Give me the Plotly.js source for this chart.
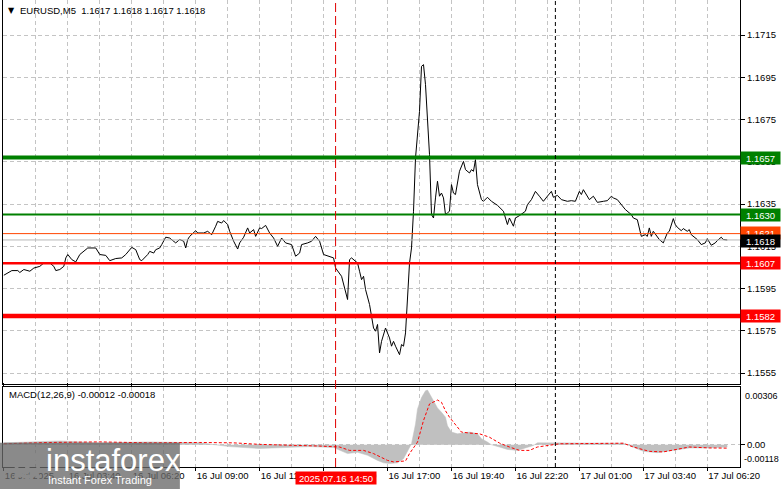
<!DOCTYPE html>
<html><head><meta charset="utf-8">
<script src="https://cdn.plot.ly/plotly-3.0.1.min.js"></script>
<style>html,body{margin:0;padding:0;background:#fff}#chart{width:781px;height:489px}</style>
</head><body><div id="chart"></div>
<script>
// ---- data ----
const symbolHeader = 'EURUSD,M5  1.1617 1.1618 1.1617 1.1618';
const macdHeader = 'MACD(12,26,9) -0.00012 -0.00018';

const times = [
'2025-07-16 01:00','2025-07-16 01:20','2025-07-16 01:35','2025-07-16 01:40','2025-07-16 01:50','2025-07-16 02:05','2025-07-16 02:15','2025-07-16 02:30','2025-07-16 02:40','2025-07-16 02:55',
'2025-07-16 03:05','2025-07-16 03:10','2025-07-16 03:20','2025-07-16 03:30','2025-07-16 03:35','2025-07-16 03:40','2025-07-16 03:50','2025-07-16 04:00','2025-07-16 04:10','2025-07-16 04:20',
'2025-07-16 04:30','2025-07-16 04:50','2025-07-16 05:00','2025-07-16 05:15','2025-07-16 05:25','2025-07-16 05:40','2025-07-16 05:55','2025-07-16 06:05','2025-07-16 06:20','2025-07-16 06:30',
'2025-07-16 06:40','2025-07-16 06:45','2025-07-16 07:00','2025-07-16 07:05','2025-07-16 07:15','2025-07-16 07:20','2025-07-16 07:30','2025-07-16 07:35','2025-07-16 07:45','2025-07-16 07:55',
'2025-07-16 08:10','2025-07-16 08:20','2025-07-16 08:30','2025-07-16 08:35','2025-07-16 08:40','2025-07-16 08:45','2025-07-16 09:00','2025-07-16 09:05','2025-07-16 09:20','2025-07-16 09:30',
'2025-07-16 09:40','2025-07-16 09:50','2025-07-16 09:55','2025-07-16 10:05','2025-07-16 10:10','2025-07-16 10:20','2025-07-16 10:25','2025-07-16 10:35','2025-07-16 10:45','2025-07-16 10:50',
'2025-07-16 11:00','2025-07-16 11:10','2025-07-16 11:15','2025-07-16 11:25','2025-07-16 11:30','2025-07-16 11:40','2025-07-16 11:45','2025-07-16 11:55','2025-07-16 12:05','2025-07-16 12:15',
'2025-07-16 12:25','2025-07-16 12:35','2025-07-16 12:45','2025-07-16 13:00','2025-07-16 13:10','2025-07-16 13:20','2025-07-16 13:25','2025-07-16 13:40','2025-07-16 13:50','2025-07-16 14:00',
'2025-07-16 14:10','2025-07-16 14:20','2025-07-16 14:35','2025-07-16 14:45','2025-07-16 14:50','2025-07-16 15:05','2025-07-16 15:20','2025-07-16 15:25','2025-07-16 15:30','2025-07-16 15:40',
'2025-07-16 15:45','2025-07-16 15:50','2025-07-16 15:55','2025-07-16 16:00','2025-07-16 16:05','2025-07-16 16:15','2025-07-16 16:20','2025-07-16 16:25','2025-07-16 16:30','2025-07-16 16:35',
'2025-07-16 16:40','2025-07-16 16:45','2025-07-16 16:55','2025-07-16 17:05','2025-07-16 17:10','2025-07-16 17:15','2025-07-16 17:20','2025-07-16 17:30','2025-07-16 17:35','2025-07-16 17:40',
'2025-07-16 17:45','2025-07-16 17:50','2025-07-16 17:55','2025-07-16 18:00','2025-07-16 18:05','2025-07-16 18:10','2025-07-16 18:15','2025-07-16 18:20','2025-07-16 18:25','2025-07-16 18:30',
'2025-07-16 18:35','2025-07-16 18:40','2025-07-16 18:45','2025-07-16 18:50','2025-07-16 18:55','2025-07-16 19:00','2025-07-16 19:05','2025-07-16 19:10','2025-07-16 19:15','2025-07-16 19:20',
'2025-07-16 19:25','2025-07-16 19:30','2025-07-16 19:35','2025-07-16 19:40','2025-07-16 19:45','2025-07-16 19:50','2025-07-16 19:55','2025-07-16 20:00','2025-07-16 20:10','2025-07-16 20:15',
'2025-07-16 20:25','2025-07-16 20:30','2025-07-16 20:35','2025-07-16 20:40','2025-07-16 20:45','2025-07-16 20:55','2025-07-16 21:00','2025-07-16 21:10','2025-07-16 21:20','2025-07-16 21:35',
'2025-07-16 21:50','2025-07-16 22:00','2025-07-16 22:05','2025-07-16 22:15','2025-07-16 22:20','2025-07-16 22:30','2025-07-16 22:45','2025-07-16 22:50','2025-07-16 23:00','2025-07-16 23:10',
'2025-07-16 23:20','2025-07-16 23:30','2025-07-16 23:40','2025-07-16 23:50','2025-07-16 23:55','2025-07-17 00:05','2025-07-17 00:15','2025-07-17 00:30','2025-07-17 00:40','2025-07-17 00:50',
'2025-07-17 01:00','2025-07-17 01:05','2025-07-17 01:10','2025-07-17 01:20','2025-07-17 01:25','2025-07-17 01:35','2025-07-17 01:45','2025-07-17 02:00','2025-07-17 02:10','2025-07-17 02:20',
'2025-07-17 02:25','2025-07-17 02:35','2025-07-17 02:45','2025-07-17 02:55','2025-07-17 03:10','2025-07-17 03:15','2025-07-17 03:25','2025-07-17 03:30','2025-07-17 03:35','2025-07-17 03:45',
'2025-07-17 03:50','2025-07-17 03:55','2025-07-17 04:00','2025-07-17 04:05','2025-07-17 04:15','2025-07-17 04:20','2025-07-17 04:30','2025-07-17 04:40','2025-07-17 04:45','2025-07-17 04:50',
'2025-07-17 04:55','2025-07-17 05:00','2025-07-17 05:05','2025-07-17 05:15','2025-07-17 05:20','2025-07-17 05:30','2025-07-17 05:35','2025-07-17 05:40','2025-07-17 05:50','2025-07-17 05:55',
'2025-07-17 06:05','2025-07-17 06:15','2025-07-17 06:20','2025-07-17 06:30','2025-07-17 06:40','2025-07-17 06:45','2025-07-17 06:55','2025-07-17 07:00','2025-07-17 07:10'
];
const closes = [
1.16013,1.16035,1.16035,1.16026,1.16040,1.16032,1.16047,1.16055,1.16071,1.16071,
1.16055,1.16035,1.16040,1.16055,1.16095,1.16111,1.16087,1.16076,1.16111,1.16126,
1.16142,1.16142,1.16111,1.16107,1.16082,1.16092,1.16095,1.16111,1.16145,1.16134,
1.16087,1.16082,1.16111,1.16126,1.16118,1.16134,1.16142,1.16158,1.16193,1.16189,
1.16166,1.16182,1.16174,1.16142,1.16182,1.16197,1.16224,1.16213,1.16213,1.16221,
1.16205,1.16245,1.16268,1.16260,1.16272,1.16253,1.16221,1.16174,1.16137,1.16166,
1.16193,1.16237,1.16213,1.16229,1.16197,1.16237,1.16234,1.16249,1.16213,1.16189,
1.16150,1.16189,1.16166,1.16158,1.16103,1.16118,1.16158,1.16166,1.16174,1.16197,
1.16174,1.16111,1.16103,1.16095,1.16047,1.16008,1.15898,1.16087,1.16095,1.16079,
1.16071,1.16032,1.15992,1.16008,1.15945,1.15874,1.15811,1.15763,1.15748,1.15780,
1.15645,1.15700,1.15763,1.15716,1.15677,1.15700,1.15677,1.15637,1.15685,1.15677,
1.15740,1.15922,1.16071,1.16142,1.16316,1.16568,1.16694,1.16789,1.17002,1.17010,
1.16915,1.16773,1.16584,1.16300,1.16284,1.16379,1.16458,1.16387,1.16402,1.16379,
1.16300,1.16308,1.16316,1.16442,1.16402,1.16395,1.16458,1.16505,1.16552,1.16513,
1.16497,1.16513,1.16505,1.16560,1.16442,1.16371,1.16363,1.16382,1.16363,1.16344,
1.16316,1.16253,1.16284,1.16245,1.16284,1.16295,1.16316,1.16347,1.16371,1.16410,
1.16387,1.16363,1.16387,1.16410,1.16382,1.16391,1.16371,1.16363,1.16366,1.16363,
1.16410,1.16395,1.16418,1.16387,1.16371,1.16387,1.16358,1.16363,1.16366,1.16387,
1.16379,1.16371,1.16347,1.16324,1.16300,1.16284,1.16276,1.16237,1.16197,1.16205,
1.16197,1.16237,1.16197,1.16221,1.16197,1.16182,1.16166,1.16213,1.16221,1.16253,
1.16281,1.16253,1.16240,1.16224,1.16234,1.16221,1.16229,1.16205,1.16189,1.16182,
1.16158,1.16166,1.16186,1.16155,1.16166,1.16177,1.16193,1.16182,1.16180
];

const macdTimes = [
'2025-07-16 01:00','2025-07-16 03:20','2025-07-16 05:00','2025-07-16 07:05','2025-07-16 09:10','2025-07-16 10:25','2025-07-16 11:40','2025-07-16 12:55','2025-07-16 13:45','2025-07-16 14:45',
'2025-07-16 14:50','2025-07-16 15:20','2025-07-16 15:45','2025-07-16 16:10','2025-07-16 16:35','2025-07-16 16:50','2025-07-16 17:05','2025-07-16 17:25','2025-07-16 17:40','2025-07-16 17:50',
'2025-07-16 18:00','2025-07-16 18:10','2025-07-16 18:15','2025-07-16 18:25','2025-07-16 18:35','2025-07-16 18:40','2025-07-16 18:50','2025-07-16 19:00','2025-07-16 19:05','2025-07-16 19:15',
'2025-07-16 19:25','2025-07-16 19:30','2025-07-16 19:40','2025-07-16 19:55','2025-07-16 20:10','2025-07-16 20:25','2025-07-16 20:45','2025-07-16 20:55','2025-07-16 21:10','2025-07-16 21:20',
'2025-07-16 21:40','2025-07-16 22:00','2025-07-16 22:25','2025-07-16 22:45','2025-07-16 23:05','2025-07-16 23:15','2025-07-17 00:10','2025-07-17 01:25','2025-07-17 02:50','2025-07-17 03:05',
'2025-07-17 03:40','2025-07-17 04:15','2025-07-17 04:55','2025-07-17 05:35','2025-07-17 06:20','2025-07-17 07:10'
];
const macdMain = [
0.0001,0.0002,0.0001,0.00015,0.0001,-0.0001,-0.0002,-0.00015,-0.0001,-0.00015,
-0.0002,-0.00047,-0.0004,-0.00056,-0.00083,-0.00096,-0.001,-0.00096,-0.00074,-0.0003,
0.00005,0.0011,0.0019,0.0025,0.00286,0.0029,0.0025,0.00216,0.00195,0.00172,
0.00146,0.001,0.00067,0.00058,0.00061,0.00067,0.00058,0.00032,0.00014,0,
-0.00012,-0.00025,-0.0003,-0.00017,-0.00004,0.0001,0.0001,0.0001,0.00008,-0.00004,
-0.00035,-0.00042,-0.0003,-0.00017,-0.00017,-0.00012
];

const signalTimes = [
'2025-07-16 01:00','2025-07-16 02:55','2025-07-16 05:00','2025-07-16 07:05','2025-07-16 09:10','2025-07-16 10:35','2025-07-16 11:40','2025-07-16 13:20','2025-07-16 14:10','2025-07-16 15:00',
'2025-07-16 15:25','2025-07-16 16:00','2025-07-16 16:25','2025-07-16 17:00','2025-07-16 17:15','2025-07-16 17:45','2025-07-16 17:55','2025-07-16 18:15','2025-07-16 18:30','2025-07-16 18:45',
'2025-07-16 19:05','2025-07-16 19:15','2025-07-16 19:25','2025-07-16 19:35','2025-07-16 19:55','2025-07-16 20:05','2025-07-16 20:25','2025-07-16 20:50','2025-07-16 21:15','2025-07-16 21:40',
'2025-07-16 22:05','2025-07-16 22:30','2025-07-16 22:55','2025-07-16 23:15','2025-07-17 00:10','2025-07-17 01:50','2025-07-17 02:50','2025-07-17 03:15','2025-07-17 03:55','2025-07-17 04:30',
'2025-07-17 05:05','2025-07-17 05:35','2025-07-17 06:25','2025-07-17 07:10'
];
const macdSignal = [
0.00005,0.00012,0.00015,0.0001,0.00012,0.0001,0.00002,-0.00003,-0.00007,-0.00012,
-0.0003,-0.0003,-0.00047,-0.00083,-0.00091,-0.00086,-0.00047,0.00014,0.00128,0.00216,
0.00237,0.00225,0.0018,0.00146,0.00093,0.00067,0.00062,0.00058,0.0004,0.00009,
-0.00012,-0.0003,-0.0003,-0.00012,0.00005,0.00008,0.00008,-0.00012,-0.00035,-0.00038,
-0.00025,-0.00012,-0.00017,-0.00018
];

const resistanceLevels = [1.1657, 1.1630];
const supportLevels = [1.1607, 1.1582];
const bidPrice = 1.1618;
const askPrice = 1.1621;
const macdMax = 0.00306, macdMin = -0.00118;

const entryTime = '2025-07-16 14:50';
const entryLabel = '2025.07.16 14:50';
const daySeparator = '2025-07-17 00:00';

const tickTimes = ['2025-07-16 01:00','2025-07-16 03:40','2025-07-16 06:20','2025-07-16 09:00','2025-07-16 11:40','2025-07-16 14:20','2025-07-16 17:00','2025-07-16 19:40','2025-07-16 22:20','2025-07-17 01:00','2025-07-17 03:40','2025-07-17 06:20'];
const tickLabels = ['16 Jul 2025','16 Jul 03:40','16 Jul 06:20','16 Jul 09:00','16 Jul 11:40','16 Jul 14:20','16 Jul 17:00','16 Jul 19:40','16 Jul 22:20','17 Jul 01:00','17 Jul 03:40','17 Jul 06:20'];

// ---- styling ----
const FONT = 'Liberation Sans, Arial, sans-serif';
const GRID = '#c4c4c4';
const GDASH = '4px,3px';

const traces = [
  {type:'scatter', mode:'lines', x:times, y:closes, xaxis:'x', yaxis:'y',
   line:{color:'#000', width:1}, hoverinfo:'skip'},
  {type:'scatter', mode:'lines', x:macdTimes, y:macdMain, xaxis:'x', yaxis:'y2',
   fill:'tozeroy', fillcolor:'#c0c0c0', line:{color:'#c0c0c0', width:0.5}, hoverinfo:'skip'},
  {type:'scatter', mode:'lines', x:signalTimes, y:macdSignal, xaxis:'x', yaxis:'y2',
   line:{color:'#ff0000', width:1, dash:'3px,2px'}, hoverinfo:'skip'}
];

const shapes = [];
const hline = (v, color, w) => ({type:'line', xref:'paper', x0:0, x1:1, yref:'y', y0:v, y1:v, line:{color, width:w}});
shapes.push(hline(bidPrice, '#b8b8b8', 1));
shapes.push(hline(askPrice, '#ff4500', 1));
shapes.push(hline(resistanceLevels[0], '#008000', 4));
shapes.push(hline(resistanceLevels[1], '#008000', 2));
shapes.push(hline(supportLevels[0], '#ff0000', 2.5));
shapes.push(hline(supportLevels[1], '#ff0000', 4.5));
shapes.push({type:'line', xref:'x', x0:entryTime, x1:entryTime, yref:'paper', y0:0, y1:1, line:{color:'#e00000', width:1, dash:'9px,4px'}});
shapes.push({type:'line', xref:'x', x0:daySeparator, x1:daySeparator, yref:'paper', y0:0, y1:1, line:{color:'#000', width:1, dash:'4px,3px'}});
// logo backdrop
shapes.push({type:'rect', xref:'paper', yref:'paper', x0:-0.005, x1:0.24, y0:-0.05, y1:0.052, line:{width:0}, fillcolor:'rgba(105,105,105,0.78)', layer:'above'});

const annotations = [];
annotations.push({xref:'paper', yref:'paper', x:0.004, y:0.9775, xanchor:'left', yanchor:'middle', text:'▼', showarrow:false, font:{family:'DejaVu Sans', size:8, color:'#000'}});
annotations.push({xref:'paper', yref:'paper', x:0.0205, y:0.9775, xanchor:'left', yanchor:'middle', text:symbolHeader, showarrow:false, font:{family:FONT, size:9.5, color:'#000'}});
annotations.push({xref:'paper', yref:'paper', x:0.0055, y:0.1545, xanchor:'left', yanchor:'middle', text:macdHeader, showarrow:false, font:{family:FONT, size:9.5, color:'#000'}});

const tag = (v, txt, bg, ys) => ({xref:'paper', x:1, xanchor:'left', xshift:0, yshift:ys || 0, yref:'y', y:v, yanchor:'middle', text:txt, showarrow:false,
  bgcolor:bg, width:37, height:10, borderpad:1, font:{family:FONT, size:9.5, color:'#fff'}});
annotations.push(tag(resistanceLevels[0], resistanceLevels[0].toFixed(4), '#008000'));
annotations.push(tag(resistanceLevels[1], resistanceLevels[1].toFixed(4), '#008000'));
annotations.push(tag(askPrice, askPrice.toFixed(4), '#ff4500', 1));
annotations.push(tag(bidPrice, bidPrice.toFixed(4), '#000000', -1));
annotations.push(tag(supportLevels[0], supportLevels[0].toFixed(4), '#ff0000'));
annotations.push(tag(supportLevels[1], supportLevels[1].toFixed(4), '#ff0000'));

annotations.push({xref:'paper', x:1, xshift:3, xanchor:'left', yref:'y2', y:macdMax, yanchor:'top', yshift:-2, text:macdMax.toFixed(5), showarrow:false, font:{family:FONT, size:9, color:'#000'}});
annotations.push({xref:'paper', x:1, xshift:2, xanchor:'left', yref:'y2', y:macdMin, yanchor:'bottom', yshift:1, text:macdMin.toFixed(5), showarrow:false, font:{family:FONT, size:9, color:'#000'}});

annotations.push({xref:'x', x:entryTime, xanchor:'center', yref:'paper', y:-0.0225, yanchor:'middle', text:entryLabel, showarrow:false,
  bgcolor:'#ff0000', width:78, height:10, borderpad:1, font:{family:FONT, size:9.5, color:'#fff'}});

annotations.push({xref:'paper', yref:'paper', x:0.056, y:0.0135, xanchor:'left', yanchor:'middle', text:'instaforex', showarrow:false, font:{family:FONT, size:31, color:'#fff'}});
annotations.push({xref:'paper', yref:'paper', x:0.0585, y:-0.0285, xanchor:'left', yanchor:'middle', text:'Instant Forex Trading', showarrow:false, font:{family:FONT, size:11, color:'#fff'}});

// gear logo
let gp = '';
const teeth = 8;
for (let i = 0; i < teeth; i++) {
  const a0 = (i / teeth) * 2 * Math.PI;
  const pts = [[a0 - 0.16, 14], [a0 - 0.11, 19], [a0 + 0.11, 19], [a0 + 0.16, 14], [a0 + Math.PI / teeth - 0.02, 14]];
  pts.forEach((p, j) => { const x = 20 + p[1] * Math.cos(p[0]), y = 20 + p[1] * Math.sin(p[0]); gp += (i === 0 && j === 0 ? 'M' : 'L') + x.toFixed(2) + ' ' + y.toFixed(2); });
}
gp += 'Z M20 10 A10 10 0 1 0 20.01 10 Z';
const svg = "<svg xmlns='http://www.w3.org/2000/svg' viewBox='0 0 40 40'><path fill='white' fill-rule='evenodd' d='" + gp + "'/>" +
  "<circle cx='20' cy='14.5' r='2.6' fill='white'/><rect x='17.6' y='18.5' width='4.8' height='10' fill='white'/></svg>";
const images = [{source:'data:image/svg+xml;charset=utf-8,' + encodeURIComponent(svg), xref:'paper', yref:'paper',
  x:0.008, y:0.047, sizex:0.05, sizey:0.085, xanchor:'left', yanchor:'top', sizing:'stretch', layer:'above'}];

const layout = {
  width:781, height:489,
  margin:{l:3, r:41, t:0, b:22},
  paper_bgcolor:'#fff', plot_bgcolor:'#fff',
  showlegend:false,
  font:{family:FONT, size:9.5, color:'#000'},
  xaxis:{
    type:'date', anchor:'y2',
    range:['2025-07-16 00:57:52','2025-07-17 07:41:54'],
    tickmode:'array', tickvals:tickTimes, ticktext:tickLabels,
    ticklabelposition:'outside right', ticks:'outside', ticklen:3, tickcolor:'#000',
    tickfont:{family:FONT, size:9.5, color:'#000'},
    showgrid:true, gridcolor:GRID, griddash:GDASH, gridwidth:1,
    minor:{tick0:'2025-07-16 01:00', dtick:80*60*1000, showgrid:true, gridcolor:GRID, griddash:GDASH, ticks:''},
    showline:true, linecolor:'#000', linewidth:1, mirror:'all', zeroline:false, fixedrange:true
  },
  yaxis:{
    domain:[0.1777, 1], side:'right', range:[1.15498, 1.17316],
    tick0:1.1555, dtick:0.002, tickformat:'.4f',
    ticks:'outside', ticklen:4, tickcolor:'#000',
    tickfont:{family:FONT, size:9.5, color:'#000'},
    showgrid:true, gridcolor:GRID, griddash:GDASH,
    showline:true, linecolor:'#000', mirror:true, zeroline:false
  },
  yaxis2:{
    domain:[0, 0.1713], side:'right', range:[macdMin, macdMax],
    tickmode:'array', tickvals:[0], ticktext:['0.00'],
    ticks:'outside', ticklen:4, tickcolor:'#000',
    tickfont:{family:FONT, size:9.5, color:'#000'},
    showgrid:true, gridcolor:GRID, griddash:GDASH,
    showline:true, linecolor:'#000', mirror:true, zeroline:false
  },
  shapes, annotations, images
};

Plotly.newPlot('chart', traces, layout, {staticPlot:true, displayModeBar:false});
</script></body></html>
